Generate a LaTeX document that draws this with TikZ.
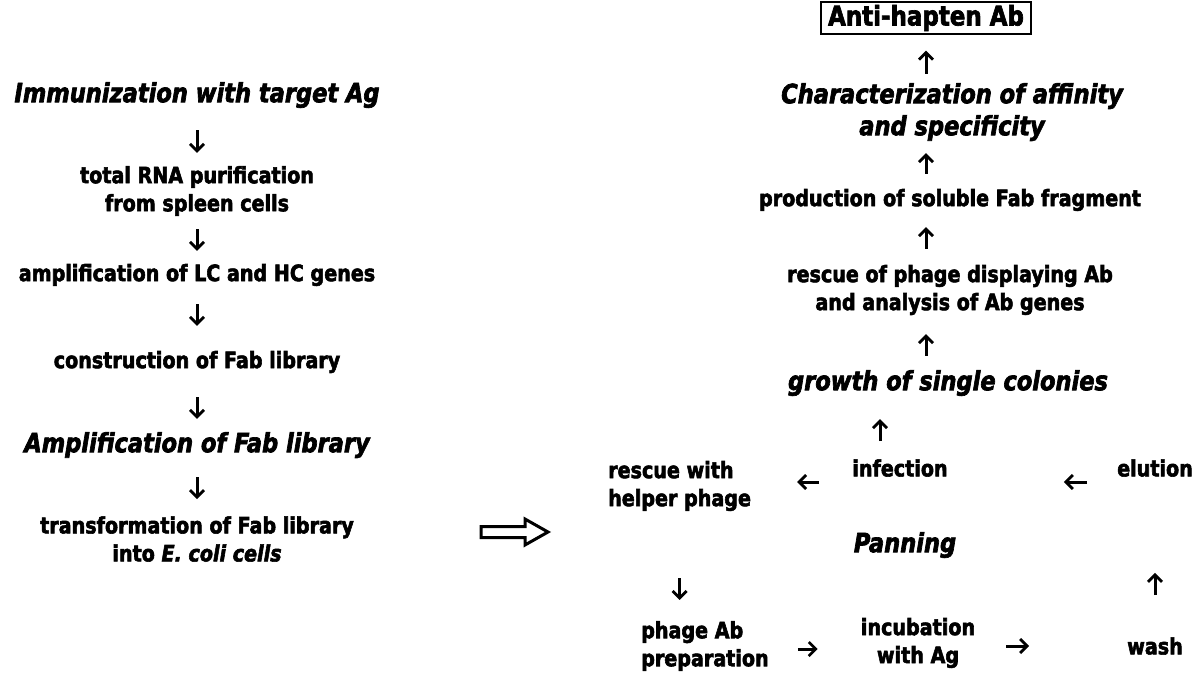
\documentclass[tikz,border=0pt]{standalone}
\usepackage{fontspec}
\setmainfont[FakeStretch=0.85,
  BoldFont={DejaVu Sans Bold},BoldFeatures={FakeBold=2.5},
  BoldItalicFont={DejaVu Sans Bold Oblique},BoldItalicFeatures={FakeBold=2.5}]{DejaVu Sans}
\usetikzlibrary{arrows.meta}
\begin{document}
\begin{tikzpicture}[x=1pt,y=-1pt,
  txt/.style={inner sep=0pt,align=center,font=\fontsize{22.5}{28}\selectfont\bfseries},
  hd/.style={inner sep=0pt,align=center,font=\fontsize{26.5}{32}\selectfont\bfseries\itshape},
  arr/.style={line width=3pt,-{Straight Barb[length=7pt,width=14pt,line width=2.8pt]}},
  bigarrow/.style={line width=3pt,line join=miter}]
\useasboundingbox (0,0) rectangle (1197,697);
% left column
\node[hd]  (imm)   at (197,95)  {Immunization with target Ag};
\node[txt] (rna)   at (197,191) {total RNA purification\\from spleen cells};
\node[txt] (amp)   at (197,275) {amplification of LC and HC genes};
\node[txt] (con)   at (197,362) {construction of Fab library};
\node[hd]  (ampf)  at (197,445) {Amplification of Fab library};
\node[txt] (trans) at (197,539) {transformation of Fab library\\into \textit{E. coli cells}};
% right column
\node[txt,draw,line width=2pt,inner xsep=7pt,inner ysep=2.5pt,font=\fontsize{27}{30}\selectfont\bfseries] (anti) at (926,18) {Anti-hapten Ab};
\node[hd]  (char)  at (952,112) {Characterization of affinity\\and specificity};
\node[txt] (prod)  at (950,200) {production of soluble Fab fragment};
\node[txt] (resc)  at (950,290) {rescue of phage displaying Ab\\and analysis of Ab genes};
\node[hd]  (grow)  at (948,383) {growth of single colonies};
\node[txt,align=left,anchor=west] (help)  at (608,486) {rescue with\\helper phage};
\node[txt] (inf)   at (900,468) {infection};
\node[txt] (elu)   at (1155,468) {elution};
\node[hd]  (pan)   at (905,545) {Panning};
\node[txt,align=left,anchor=west] (phage) at (641,646) {phage Ab\\preparation};
\node[txt] (inc)   at (918,643) {incubation\\with Ag};
\node[txt] (wash)  at (1155,646) {wash};
% transfer arrow (hollow block arrow)
\coordinate (bigtip) at (548,532);
\draw[bigarrow] (bigtip) -- ++(-23,-13) -- ++(0,7.5) -- ++(-44,0) -- ++(0,11) -- ++(44,0) -- ++(0,7.5) -- cycle;
% left column arrows
\draw[arr,shorten <=22pt,shorten >=13pt] (imm) -- (rna);
\draw[arr,shorten <=13pt,shorten >=13pt] (rna) -- (amp);
\draw[arr,shorten <=18pt,shorten >=25pt] (amp) -- (con);
\draw[arr,shorten <=24pt,shorten >=13pt] (con) -- (ampf);
\draw[arr,shorten <=19pt,shorten >=17pt] (ampf) -- (trans);
% right column arrows
\draw[arr,shorten <=9pt,shorten >=16pt] (anti.south |- char.north) -- (anti.south);
\draw[arr,shorten <=15pt,shorten >=12pt] (anti.south |- prod.north) -- (anti.south |- char.south);
\draw[arr,shorten <=16pt,shorten >=16pt] (anti.south |- resc.north) -- (anti.south |- prod.south);
\draw[arr,shorten <=14pt,shorten >=19pt] (anti.south |- grow.north) -- (anti.south |- resc.south);
\draw[arr,shorten <=18pt,shorten >=23pt] ([xshift=-20pt]inf.north) -- ([xshift=-20pt]inf.north |- grow.south);
% panning cycle
\draw[arr,shorten <=33pt,shorten >=46pt] ([yshift=-14pt]inf.west) -- ([yshift=-14pt]inf.west -| help.east);
\draw[arr,shorten <=30pt,shorten >=116pt] ([yshift=-14pt]elu.west) -- ([yshift=-14pt]inf.east);
\draw[arr,shorten <=67pt,shorten >=21pt] (help.south) -- (help.south |- phage.north);
\draw[arr,shorten <=29pt,shorten >=43pt] ([yshift=-3pt]phage.east) -- ([yshift=-3pt]phage.east -| inc.west);
\draw[arr,shorten <=31pt,shorten >=98pt] ([yshift=-3pt]inc.east) -- ([yshift=-3pt]inc.east -| wash.west);
\draw[arr,shorten <=42pt,shorten >=96pt] (wash.north) -- (wash.north |- elu.south);
\end{tikzpicture}
\end{document}
